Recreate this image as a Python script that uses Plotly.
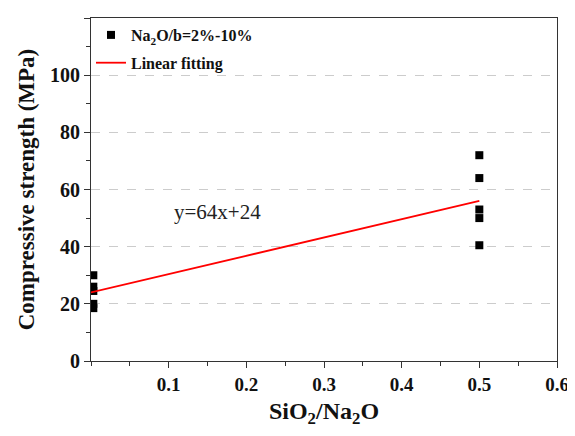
import plotly.graph_objects as go

# Data
x_low = [0.003, 0.003, 0.003, 0.003, 0.003]
y_low = [30, 26, 24.5, 20, 18.5]
x_high = [0.5, 0.5, 0.5, 0.5, 0.5]
y_high = [72, 64, 53, 50, 40.5]
fit_x = [0.0, 0.5]
fit_slope = 64
fit_intercept = 24
x_ticks = [0.1, 0.2, 0.3, 0.4, 0.5, 0.6]
x_tick_labels = ["0.1", "0.2", "0.3", "0.4", "0.5", "0.6"]
y_ticks = [0, 20, 40, 60, 80, 100, 120]

FONT = "Liberation Serif, Times New Roman, serif"

fit_y = [fit_slope * v + fit_intercept for v in fit_x]

fig = go.Figure()
fig.add_trace(go.Scatter(
    x=x_low + x_high, y=y_low + y_high, mode="markers",
    marker=dict(symbol="square", size=8, color="black"),
    name="<b>Na<sub>2</sub>O/b=2%-10%</b>", legendgroup="a",
))
fig.add_trace(go.Scatter(
    x=fit_x, y=fit_y, mode="lines",
    line=dict(color="red", width=1.8),
    name="<b>Linear fitting</b>", legendgroup="b",
))

fig.add_annotation(
    x=0.163, y=52, xref="x", yref="y", text="y=64x+24", showarrow=False,
    font=dict(family=FONT, size=21, color="#222"),
)

# Figure sized to fit inside the 575x436 window with the page's 8px body margin
fig.update_layout(
    width=565, height=420,
    margin=dict(l=83, r=16, t=10, b=67),
    paper_bgcolor="white", plot_bgcolor="white",
    font=dict(family=FONT, color="#111"),
    showlegend=True,
    legend=dict(
        x=0.0, y=1.0, xanchor="left", yanchor="top",
        bgcolor="rgba(0,0,0,0)", borderwidth=0,
        font=dict(family=FONT, size=16, color="#111"),
        traceorder="grouped", tracegroupgap=4,
    ),
)
fig.update_xaxes(
    range=[0, 0.6], tickvals=x_ticks, ticktext=["<b>%s</b>" % t for t in x_tick_labels],
    ticks="outside", ticklen=6, tickwidth=1, tickcolor="#333",
    minor=dict(ticks="outside", ticklen=4, dtick=0.05, tick0=0, tickcolor="#333"),
    showline=True, linecolor="#333", linewidth=1, mirror=True,
    showgrid=False, zeroline=False, automargin=False,
    tickfont=dict(family=FONT, size=19, color="#111"),
    title=dict(text="<b>SiO<sub>2</sub>/Na<sub>2</sub>O</b>", font=dict(family=FONT, size=24, color="#111"), standoff=17),
)
fig.update_yaxes(
    range=[0, 120], tickvals=y_ticks, ticktext=["<b>%d</b>" % t for t in y_ticks],
    ticks="outside", ticklen=6, tickwidth=1, tickcolor="#333",
    minor=dict(ticks="outside", ticklen=4, dtick=10, tick0=0, tickcolor="#333", showgrid=False),
    showline=True, linecolor="#333", linewidth=1, mirror=True,
    showgrid=True, gridcolor="#cccccc", griddash="dash", gridwidth=1,
    zeroline=False, automargin=False,
    tickfont=dict(family=FONT, size=20, color="#111"),
    title=dict(text="<b>Compressive strength (MPa)</b>", font=dict(family=FONT, size=23, color="#111"), standoff=8),
)

fig.write_html("out.html")
